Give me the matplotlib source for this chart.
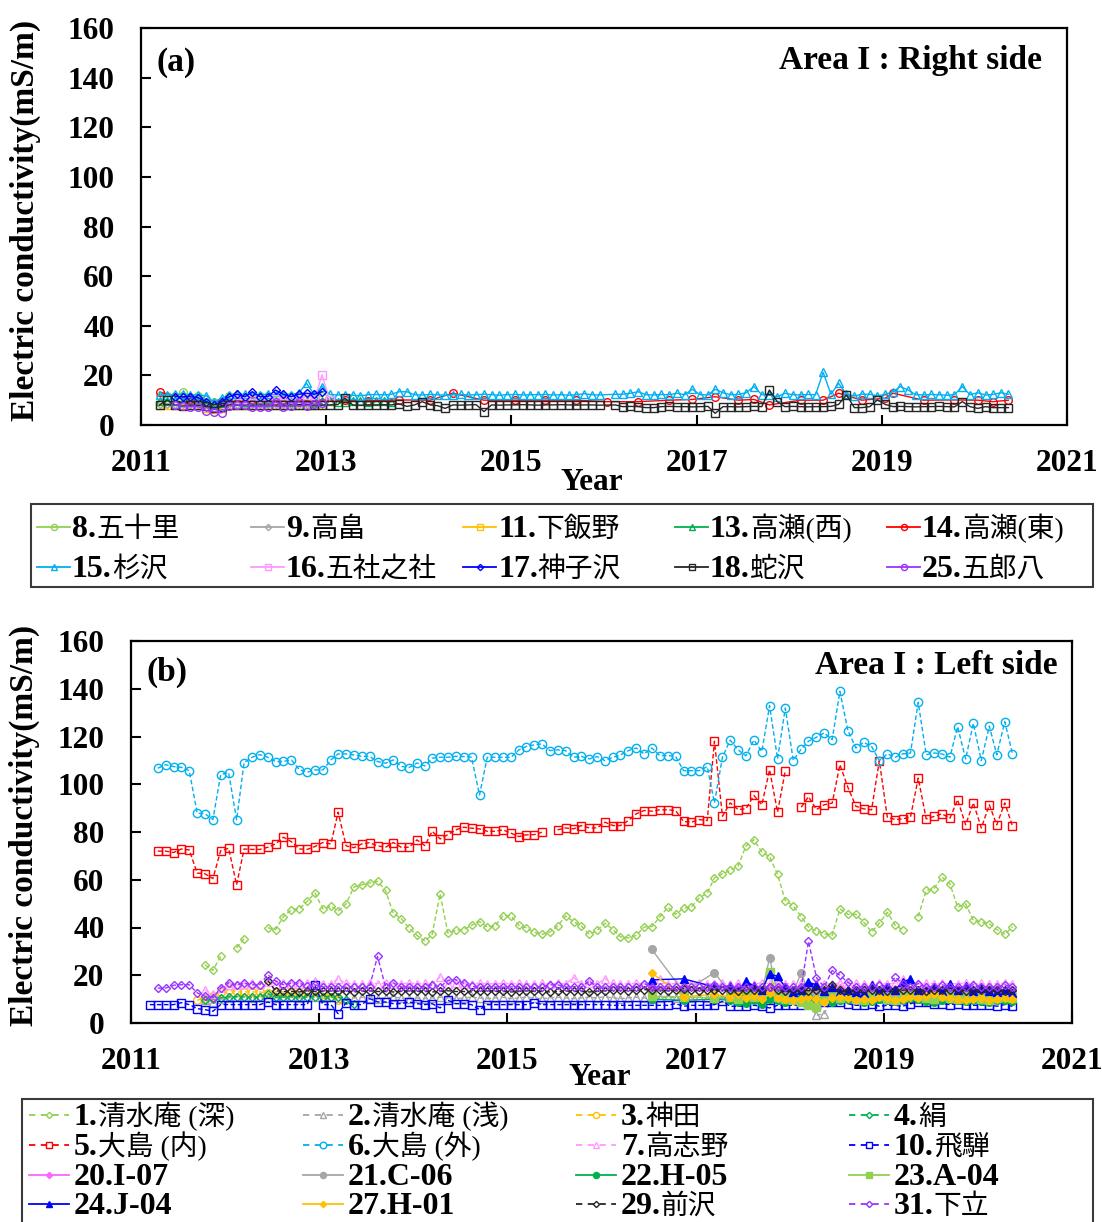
import numpy as np
import pandas as pd
import matplotlib
matplotlib.use("Agg")
import matplotlib.pyplot as plt
import matplotlib.dates as mdates
from matplotlib.lines import Line2D
from matplotlib.patches import Rectangle
from datetime import datetime

FAMILY = ["Liberation Serif", "Noto Sans CJK JP"]
plt.rcParams["font.family"] = FAMILY
plt.rcParams["font.weight"] = "bold"
N = None

# ---------------------------------------------------------------- panel (a)
# monthly EC readings (mS/m); each series starts at the month given
A8_start = "2011-03"
A8 = [11.6, 11.5, 11.6, 13.2, 11.4, 11.6, 10.5, 9.2, 9.8, 11.5, 11.6, 11.4, 11.6,
      11.5, 11.6, 11.4, 11.6, 11.5, 11.6, 11.4, 11.6, 11.5]
A9_start = "2011-03"
A9 = [8.4, 8.5, 8.3, 8.4, 8.5, 8.3, 7.2, 6.8, 7.0, 8.4, 8.5, 8.3, 8.4, 8.5, 8.3,
      8.4, 8.5, 8.3, 8.4, 8.5, 8.3, 8.4]
A11_start = "2011-03"
A11 = [8.2, 8.0, 8.1, 8.2, 8.0, 8.1, 6.9, 6.5, 6.8, 8.2, 8.0, 8.1, 8.2, 8.0, 8.1,
       8.2, 8.0, 8.1, 8.2, 8.0, 8.1, 8.2]
A13_start = "2011-03"
A13 = [9.6, 9.5, 9.6, 9.4, 9.5, 9.6, 8.8, 8.4, 8.7, 9.5, 9.6, 9.4, 9.5, 9.6, 9.4,
       9.5, 9.6, 9.4, 9.5, 9.6, 9.4, 9.5, 9.6, 9.4, 9.4, 9.5, 9.6, 9.4, 9.5, 9.6, 9.4]
A14_months = ["2011-03", "2011-07", "2011-11", "2012-03", "2012-07", "2012-11",
              "2013-03", "2013-06", "2013-10", "2014-02", "2014-05", "2014-09",
              "2015-01", "2015-05", "2015-09", "2016-01", "2016-05", "2016-09",
              "2016-12", "2017-03", "2017-06", "2017-08", "2017-10", "2018-02",
              "2018-05", "2018-07", "2018-10", "2019-01", "2019-02", "2019-06",
              "2019-10", "2020-01", "2020-03", "2020-05"]
A14 = [13.2, 10.5, 9.5, 10.0, 10.0, 10.0, 10.0, 9.8, 10.1, 10.0, 12.8, 10.0,
       10.0, 10.0, 10.0, 9.4, 9.4, 10.0, 10.3, 11.4, 10.0, 10.3, 8.1, 10.0,
       10.0, 12.8, 10.0, 10.8, 12.8, 10.0, 10.1, 10.0, 9.4, 10.0]
A15_start = "2011-03"
A15 = [12.2, 12.1, 12.3, 12.4, 12.2, 12.1, 11.8, 9.2, 10.8, 12.2,
       12.3, 12.4, 12.1, 12.2, 12.4, 12.2, 12.0, 12.2, 13.0, 16.8,
       12.2, 15.5, 12.3, 12.1, 12.2, 12.0, 11.8, 12.2, 12.3, 12.1,
       12.4, 13.4, 13.4, 12.2, 12.1, 12.3, 12.2, 12.0, 12.2, 12.3,
       12.1, 12.2, 12.4, 12.2, 12.0, 12.2, 12.3, 12.1, 12.2, 12.2,
       12.3, 12.1, 12.2, 12.0, 12.2, 12.6, 12.2, 12.1, N, 12.4,
       12.4, 12.8, 13.4, 12.2, 12.1, 12.3, 12.2, 12.8, 12.2, 14.4,
       12.2, 12.1, 14.4, 13.0, 12.2, 12.3, 13.0, 15.5, 12.2, 12.0,
       11.4, 12.8, 12.2, 12.1, 12.3, 12.2, 21.2, 12.4, 16.8, 12.4,
       11.7, 12.4, 12.4, 11.7, 12.4, 13.4, 15.5, 14.1, 12.2, 12.1,
       12.3, 12.2, 12.0, 12.2, 15.5, 12.2, 13.0, 12.1, 12.3, 13.0, 12.4]
A16_start = "2012-01"
A16 = [10.2, 10.3, 10.2, 10.0, 10.2, 10.3, 10.2, 10.1, 10.2, 10.3, 10.2, 20.2, 10.0]
A17_start = "2011-05"
A17 = [11.4, 11.4, 11.4, 11.0, 9.4, 8.1, 9.4, 11.4, 12.4, 11.4, 13.4, 11.4, 11.4,
       14.1, 12.4, 11.4, 12.4, 12.8, 12.4, 13.4]
A18_start = "2011-03"
A18 = [8.1, 10.1, 8.1, 7.8, 8.1, 8.0, 7.5, 7.0, 7.4, 8.1,
       8.1, 8.0, 8.1, 8.2, 8.1, 8.0, 8.1, 8.1, 8.2, 8.1,
       8.0, 8.1, 8.1, 8.2, 10.8, 8.1, 8.0, 8.1, 8.1, 8.2,
       8.1, 8.5, 7.5, 8.1, 9.4, 8.1, 7.8, 6.7, 8.1, 8.0,
       8.1, 8.2, 5.4, 8.1, 8.0, 8.1, 8.1, 8.2, 8.1, 8.0,
       8.1, 8.1, 8.2, 8.1, 8.0, 8.1, 8.1, 8.0, N, 8.1,
       7.4, 7.5, 7.4, 7.0, 7.0, 7.4, 7.5, 7.4, 7.4, 7.3,
       7.4, 7.5, 4.7, 7.4, 7.4, 7.3, 7.4, 7.5, 7.4, 14.1,
       9.4, 7.4, 7.5, 7.4, 7.3, 7.4, 7.4, 7.5, 8.3, 12.1,
       7.0, 7.0, 7.4, 10.1, 8.3, 7.4, 7.5, 7.4, 7.3, 7.4,
       7.4, 7.5, 7.4, 7.3, 9.4, 7.4, 6.7, 7.4, 7.0, 7.0, 7.0]
A25_start = "2011-05"
A25 = [8.1, 7.7, 7.4, 7.4, 5.8, 5.4, 4.9, 7.7, 8.1, 8.1, 7.4, 7.4, 7.4, 9.4, 7.4,
       7.7, 9.4, 7.7, 8.4, 8.7]

# ---------------------------------------------------------------- panel (b)
B1_start = "2011-10"
B1 = [24.4, 22.0, 28.0, N, 31.5, 35.3, N, N, 39.9, 39.1,
      44.6, 47.4, 47.8, 50.9, 54.5, 47.8, 49.0, 46.9, 49.9, 56.9,
      57.9, 58.7, 59.4, 55.5, 46.0, 43.7, 39.9, 36.7, 34.3, 37.1,
      54.1, 37.7, 38.8, 39.1, 40.9, 42.5, 40.2, 40.6, 45.0, 44.9,
      40.9, 39.9, 38.1, 37.1, 38.1, 40.6, 44.8, 42.5, 40.6, 37.1,
      38.8, 41.8, 39.1, 36.1, 35.6, 36.7, 40.2, 40.4, 44.4, 48.5,
      45.5, 48.1, 48.5, 52.4, 54.5, 60.8, 62.5, 63.9, 65.7, 74.1,
      76.8, 71.5, 69.7, 62.2, 51.3, 49.0, 44.6, 40.2, 38.5, 37.4,
      36.7, 47.8, 45.5, 45.5, 42.3, 38.1, 41.8, 46.4, 40.9, 39.1,
      N, 44.6, 55.5, 56.2, 61.1, 58.3, 48.5, 49.9, 43.0, 42.3,
      41.6, 39.1, 37.1, 40.4]
B2_start = "2011-10"
B2 = [9.5, 9.0, 10.0, 10.5, 10.8, 11.0, 10.5, 10.8, 11.0, 10.5,
      10.8, 11.0, 10.5, 10.8, 11.0, 10.5, 10.8, 10.5, 10.2, 10.5,
      10.8, 10.5, 10.2, 10.5, 10.8, 10.5, 10.2, 10.5, 10.2, 10.5,
      10.8, 10.5, 10.2, 10.5, 10.8, 10.5, 10.2, 10.5, 10.8, 10.2,
      10.5, 10.8, 10.5, 10.2, 10.5, 10.8, 10.5, 10.2, 10.5, 10.8,
      10.5, 11.0, 10.5, 10.2, 10.5, 10.8, 10.5, 10.2, 10.5, 10.8,
      10.5, 10.2, 10.5, 10.8, 10.5, 10.2, 10.5, 10.8, 10.5, 10.2,
      10.5, 10.8, 10.5, 10.2, 10.5, 10.8, 10.5, 8.0, 3.2, 3.9,
      10.5, 10.8, 10.5, 10.2, 10.5, 10.8, 10.5, 10.2, 10.5, 10.8,
      10.5, 10.2, 10.5, 10.8, 10.5, 10.2, 10.5, 10.8, 10.5, 10.2,
      10.5, 10.8, 10.5, 10.2]
B3_start = "2011-09"
B3 = [9.5, 10.5, 11.5, 13.0, 13.7, 13.0, 13.0, 13.0, 13.0, 12.5, 13.0, 13.0, 12.5,
      13.0, 13.0, 13.0, 12.0, 11.0, 9.5]
B4_start = "2011-10"
B4 = [9.5, 10.0, 10.5, 11.0, 11.0, 10.9, 10.9, 11.0, 12.3, 10.9, 10.9, 11.0, 10.9,
      10.9, 11.0, 11.0, 10.9, 10.9, 9.5, 8.0]
B5_start = "2011-04"
B5 = [72.0, 72.0, 71.4, 72.9, 72.5, 62.8, 62.5, 60.5, 72.2, 73.2,
      57.9, 72.9, 72.7, 72.7, 73.6, 75.0, 77.8, 75.9, 72.9, 72.7,
      73.9, 75.6, 75.0, 88.3, 74.2, 73.4, 75.0, 75.5, 74.2, 73.6,
      75.6, 73.6, 73.6, 76.7, 74.3, 80.3, 77.1, 78.9, 80.9, 82.0,
      81.6, 81.3, 80.3, 80.3, 80.9, 79.5, 78.1, 78.8, 78.9, 79.9,
      N, 80.9, 81.7, 81.3, 82.7, 81.7, 81.7, 84.1, 82.7, 82.7,
      84.8, 87.6, 89.0, 88.7, 89.3, 89.3, 89.0, 84.4, 84.1, 85.2,
      84.8, 118.0, 86.6, 92.2, 89.4, 89.7, 95.3, 91.4, 106.1, 88.3,
      105.7, N, 90.4, 94.8, 89.4, 91.4, 92.1, 108.2, 98.7, 90.8,
      89.7, 89.3, 109.9, 86.2, 85.2, 85.5, 86.2, 102.6, 85.5, 86.5,
      87.6, 85.8, 93.5, 83.0, 92.2, 81.7, 91.4, 83.0, 92.2, 82.4]
B6_start = "2011-04"
B6 = [106.7, 108.2, 107.4, 107.1, 105.7, 87.9, 87.6, 85.2, 104.0, 104.9,
      85.1, 109.1, 111.3, 112.4, 111.3, 109.5, 109.6, 110.2, 106.1, 105.0,
      106.0, 106.0, 110.2, 112.7, 112.7, 112.3, 111.7, 111.7, 109.5, 108.8,
      110.2, 107.5, 107.0, 108.9, 107.7, 110.9, 111.3, 111.3, 111.7, 111.6,
      111.3, 95.5, 111.3, 111.3, 111.3, 111.3, 114.4, 115.8, 116.5, 116.9,
      114.1, 114.4, 114.1, 111.3, 111.7, 110.6, 111.6, 109.9, 111.3, 112.3,
      114.1, 115.2, 112.7, 115.2, 112.0, 112.0, 111.7, 105.7, 105.7, 105.7,
      107.4, 92.2, 111.3, 118.5, 114.4, 111.9, 118.5, 113.7, 132.9, 110.6,
      131.9, 109.9, 114.8, 118.0, 119.7, 121.5, 118.7, 138.9, 122.5, 115.2,
      117.6, 115.8, 109.9, 112.7, 111.3, 112.7, 113.1, 134.3, 112.4, 113.1,
      112.7, 111.3, 124.1, 110.6, 125.5, 109.9, 124.4, 112.3, 126.2, 112.7]
B7_start = "2011-10"
B7 = [13.7, 12.0, 14.5, 16.0, 16.0, 16.5, 16.6, 16.4, 17.0, 16.5,
      16.6, 16.4, 16.5, 16.7, 17.5, 16.5, 16.4, 18.5, 16.6, 16.5,
      16.4, 16.7, 16.5, 16.6, 16.5, 16.4, 16.7, 16.5, 16.6, 16.4,
      19.2, 16.5, 16.7, 16.4, 16.5, 16.6, 16.5, 16.4, 16.7, 16.5,
      16.6, 16.4, 16.5, 16.7, 16.5, 16.6, 16.4, 19.0, 16.5, 16.7,
      16.4, 18.5, 16.6, 16.5, 16.4, 16.7, 16.5, 16.6, 18.5, 16.4,
      16.5, 16.7, 16.5, 16.6, 16.4, 16.5, 16.7, 16.5, 16.6, 16.4,
      16.5, 16.7, 16.5, 16.6, 16.4, 16.5, 16.7, 16.5, 16.6, 16.4,
      16.5, 16.7, 16.5, 16.6, 16.4, 16.5, 16.7, 16.5, 16.6, 18.5,
      16.4, 16.5, 16.7, 16.5, 16.6, 16.4, 16.5, 16.7, 16.5, 16.6,
      16.4, 16.5, 16.7, 16.5]
B10_start = "2011-03"
B10 = [7.7, 7.7, 7.7, 7.7, 8.5, 7.7, 6.0, 5.6, 4.9, 7.7, 7.7,
       7.7, 7.7, 7.7, 7.7, 8.8, 7.7, 7.7, 7.7, 7.7, 7.7,
       15.8, 7.7, 7.7, 3.9, 8.5, 7.7, 7.7, 10.2, 8.8, 8.8,
       8.1, 8.1, 8.8, 8.1, 7.7, 8.1, 6.3, 9.5, 8.1, 8.1,
       7.7, 5.6, 7.7, 7.7, 7.7, 7.7, 7.7, 7.7, 8.5, 7.7,
       7.7, 7.7, 7.7, 7.7, 7.7, 7.7, 7.7, 7.7,
       7.4, 7.4, 7.4, 7.4, 7.4, 7.4, 7.4, 7.4, 8.1, 7.0,
       7.4, 7.4, 7.4, 7.7, 9.1, 7.0, 7.0, 7.0, 7.4, 7.0,
       6.3, 7.4, 7.4, 7.4, 7.4, 15.0, 7.4, 8.8, 8.8, 8.8,
       8.1, 7.4, 7.4, 8.1, 7.0, 7.4, 7.4, 7.0, 8.1, 8.8,
       8.8, 8.1, 8.1, 7.7, 8.1, 7.7, 7.4, 7.4, 7.7, 7.0, 7.7, 7.0]
B29_start = "2012-06"
B29 = [17.8, 13.5, 13.2, 13.2, 13.0, 13.5, 13.2, 13.2, 13.4, 13.2,
       13.2, 13.0, 13.2, 13.5, 13.2, 13.2, 13.0, 13.2, 13.4, 13.2,
       13.2, 13.0, 13.2, 13.5, 13.2, 13.2, 13.0, 13.2, 13.4, 13.2,
       13.2, 13.0, 13.2, 13.5, 13.2, 13.2, 13.0, 13.2, 13.4, 13.2,
       13.2, 13.0, 13.2, 13.5, 13.7, 13.7, 13.5, 13.7, 14.0, 13.7,
       13.7, 13.5, 13.7, 14.4, 13.7, 13.5, 13.7, 14.0, 13.7, 13.7,
       13.5, 13.7, 14.0, 13.7, 15.0, 13.7, 13.5, 13.7, 13.7, 13.5,
       13.7, 14.0, 16.0, 13.7, 13.5, 13.7, 13.7, 14.0, 13.7, 13.5,
       13.7, 13.7, 14.0, 13.7, 13.5, 13.7, 13.7, 14.0, 13.7, 13.5,
       13.7, 13.7, 14.0, 13.7, 13.5, 13.7]
B31_start = "2011-04"
B31 = [14.6, 14.6, 15.8, 16.0, 16.0, 12.6, 11.2, 10.6, 14.6, 16.9,
       15.8, 16.7, 16.0, 16.0, 20.2, 17.6, 16.0, 16.7, 16.7, 15.3,
       16.0, 15.1, 15.2, 15.1, 15.0, 15.1, 15.2, 15.1, 27.9, 15.1,
       16.7, 15.1, 15.0, 15.1, 15.2, 16.0, 15.1, 17.9, 18.1, 16.7,
       15.3, 15.1, 15.2, 15.1, 15.0, 15.1, 15.2, 15.1, 15.0, 15.1,
       16.0, 16.0, 15.1, 15.2, 15.1, 17.6, 15.1, 15.0, 15.1, 15.2,
       15.1, 15.0, 16.5, 15.1, 15.2, 15.1, 15.0, 15.1, 15.2, 15.1,
       15.0, 16.0, 15.1, 15.2, 15.1, 15.0, 15.1, 15.2, 15.1, 15.0,
       15.1, 15.2, 15.1, 34.2, 19.0, 15.1, 22.0, 20.0, 17.0, 15.1,
       15.2, 15.1, 16.0, 15.1, 19.2, 16.5, 15.1, 16.5, 15.1, 15.2,
       16.0, 15.1, 15.2, 15.1, 16.0, 15.1, 15.2, 15.1, 16.0, 15.1]

# filled-marker sites: three early visits, then monthly from May 2017
FILLED_EARLY = ["2016-07", "2016-11", "2017-03"]
FILLED_MONTHLY_START = "2017-05"
B20 = [14.5, 14.0, 14.3,
       14.0, 14.5, 13.8, 14.6, 13.5, 14.2, 14.5, 14.0, 13.6, 14.1,
       14.5, 13.9, 13.5, 14.2, 14.6, 14.0, 13.7, 14.1, 14.4, 13.8,
       13.6, 14.2, 14.5, 14.0, 13.5, 14.1, 14.6, 13.9, 13.6, 14.2,
       14.4, 14.0, 13.7, 14.1, 14.3, 13.9, 13.6]
B21 = [30.8, 13.0, 21.1,
       12.5, 13.0, 12.0, 12.5, 13.0, 27.2, 12.5, 12.0, 13.0, 21.1,
       12.5, 12.8, 12.2, 12.6, 12.9, 12.4, 12.1, 12.7, 12.5, 12.3,
       12.8, 12.6, 12.2, 12.5, 12.9, 12.4, 12.6, 12.2, 12.7, 12.5,
       12.3, 12.6, 12.4, 12.2, 12.5, 12.3, 12.1]
B22 = [10.0, 9.5, 10.0,
       9.5, 9.0, 8.5, 9.5, 8.0, 10.0, 9.5, 9.0, 9.5, 10.5,
       11.0, 9.5, 10.0, 9.0, 9.5, 10.2, 9.6, 9.0, 9.4, 10.1,
       9.8, 9.2, 9.6, 10.3, 9.9, 9.4, 9.0, 9.6, 10.0, 9.5,
       9.2, 9.7, 9.3, 9.0, 9.5, 9.8, 9.4]
B23 = [11.2, 11.0, 10.5,
       11.0, 10.0, 12.0, 11.0, 12.5, 21.3, 11.0, 10.0, 9.5, 9.0,
       7.4, 6.7, 11.0, 12.0, 10.5, 11.2, 10.0, 9.6, 10.8, 11.5,
       10.2, 9.8, 11.0, 12.0, 11.4, 10.5, 10.0, 11.2, 10.6, 9.9,
       10.4, 11.0, 10.2, 9.8, 10.5, 10.9, 10.3]
B24 = [18.1, 18.5, 15.1,
       15.5, 13.5, 17.4, 15.5, 14.0, 20.6, 19.5, 15.1, 13.0, 14.0,
       17.0, 16.0, 13.5, 15.0, 13.0, 14.0, 13.0, 12.5, 16.0, 13.5,
       15.0, 14.0, 17.0, 18.5, 14.0, 13.5, 15.0, 13.5, 16.5, 14.0,
       15.5, 13.5, 14.5, 13.5, 13.0, 14.0, 12.5]
B27 = [20.9, 11.0, 12.0,
       11.0, 12.0, 10.5, 11.5, 10.0, 12.5, 10.5, 10.0, 9.5, 10.0,
       11.0, 10.0, 9.0, 10.5, 11.0, 10.5, 9.5, 10.0, 9.5, 11.0,
       10.5, 9.5, 10.0, 11.0, 10.5, 11.5, 12.0, 11.0, 10.5, 10.0,
       9.5, 10.0, 10.5, 9.5, 10.0, 10.5, 10.0]

YEAR_TICKS = [2011, 2013, 2015, 2017, 2019, 2021]
EC_TICKS = [0, 20, 40, 60, 80, 100, 120, 140, 160]

C_LGREEN = "#92D050"
C_GREY = "#A6A6A6"
C_GOLD = "#FFC000"
C_GREEN = "#00B050"
C_RED = "#FF0000"
C_SKY = "#00B0F0"
C_PINK = "#FF99FF"
C_PINK2 = "#FF66FF"
C_BLUE = "#0000FF"
C_BLACK = "#262626"
C_PURPLE = "#9933FF"

DASH = (0, (3.3, 1.8))
LEG_DASH = (0, (3.5, 3.0))


def monthly(start, n):
    return pd.date_range(start=start + "-15", periods=n,
                         freq=pd.DateOffset(months=1))


def to_array(values):
    return np.array([np.nan if v is None else v for v in values], dtype=float)


def draw(ax, dates, values, color, marker, label, dashed=False, filled=False,
         ms=5.5, connect=False):
    y = to_array(values)
    x = np.asarray(dates)
    if connect:
        keep = ~np.isnan(y)
        x, y = x[keep], y[keep]
    if marker == "D":
        ms = ms * 0.72
    line, = ax.plot(x, y, color=color, lw=1.0, ls=DASH if dashed else "-",
                    marker=marker, ms=ms, mfc=color if filled else "none",
                    mec=color, mew=1.0, label=label)
    line.dashed = dashed
    return line


def style_axes(ax):
    ax.set_xlim(datetime(2011, 1, 1), datetime(2021, 1, 1))
    ax.set_ylim(0, 160)
    ax.set_xticks([mdates.date2num(datetime(y, 1, 1)) for y in YEAR_TICKS])
    ax.set_xticklabels([str(y) for y in YEAR_TICKS])
    ax.set_yticks(EC_TICKS)
    ax.set_yticklabels([str(v) for v in EC_TICKS])
    ax.tick_params(axis="both", direction="in", length=7, width=1.5,
                   labelsize=22.5, pad=19)
    ax.tick_params(axis="x", pad=17)
    for lab in ax.get_xticklabels() + ax.get_yticklabels():
        lab.set_fontweight("bold")
    for sp in ax.spines.values():
        sp.set_linewidth(1.6)
        sp.set_color("black")
    ax.set_xlabel("Year", fontsize=22.5, fontweight="bold")
    ax.set_ylabel("Electric conductivity(mS/m)", fontsize=24, fontweight="bold")
    ax.xaxis.label.set_va("center")
    ax.yaxis.label.set_va("center")


W, H = 1102, 1222
fig = plt.figure(figsize=(W / 100, H / 100), dpi=100)


def frac(x0, y0, x1, y1):
    return [x0 / W, 1 - y1 / H, (x1 - x0) / W, (y1 - y0) / H]


# ---------------------------------------------------------------- draw (a)
axA = fig.add_axes(frac(141, 28, 1067, 425))
hA = {}
hA[8] = draw(axA, monthly(A8_start, len(A8)), A8, C_LGREEN, "o", "8.五十里")
hA[9] = draw(axA, monthly(A9_start, len(A9)), A9, C_GREY, "D", "9.高畠")
hA[11] = draw(axA, monthly(A11_start, len(A11)), A11, C_GOLD, "s", "11.下飯野")
hA[13] = draw(axA, monthly(A13_start, len(A13)), A13, C_GREEN, "^", "13.高瀬(西)")
hA[14] = draw(axA, pd.to_datetime([m + "-15" for m in A14_months]), A14, C_RED,
              "o", "14.高瀬(東)", connect=True)
hA[15] = draw(axA, monthly(A15_start, len(A15)), A15, C_SKY, "^", "15.杉沢",
              connect=True)
hA[16] = draw(axA, monthly(A16_start, len(A16)), A16, C_PINK, "s", "16.五社之社")
hA[17] = draw(axA, monthly(A17_start, len(A17)), A17, C_BLUE, "D", "17.神子沢")
hA[18] = draw(axA, monthly(A18_start, len(A18)), A18, C_BLACK, "s", "18.蛇沢",
              connect=True)
hA[25] = draw(axA, monthly(A25_start, len(A25)), A25, C_PURPLE, "o", "25.五郎八")
style_axes(axA)
axA.xaxis.set_label_coords(0.487, -0.145)
axA.yaxis.set_label_coords(-0.125, 0.516)
axA.text(0.017, 0.913, "(a)", transform=axA.transAxes, fontsize=24,
         fontweight="bold", ha="left", va="center")
axA.text(0.973, 0.918, "Area I : Right side", transform=axA.transAxes,
         fontsize=24, fontweight="bold", ha="right", va="center")

# ---------------------------------------------------------------- draw (b)
axB = fig.add_axes(frac(131, 641, 1072, 1023))
filled_dates = pd.to_datetime([m + "-15" for m in FILLED_EARLY]).append(
    monthly(FILLED_MONTHLY_START, len(B20) - len(FILLED_EARLY)))
hB = {}
hB[1] = draw(axB, monthly(B1_start, len(B1)), B1, C_LGREEN, "D", "1.清水庵 (深)", dashed=True)
hB[2] = draw(axB, monthly(B2_start, len(B2)), B2, C_GREY, "^", "2.清水庵 (浅)", dashed=True)
hB[3] = draw(axB, monthly(B3_start, len(B3)), B3, C_GOLD, "o", "3.神田", dashed=True)
hB[4] = draw(axB, monthly(B4_start, len(B4)), B4, C_GREEN, "D", "4.絹", dashed=True)
hB[5] = draw(axB, monthly(B5_start, len(B5)), B5, C_RED, "s", "5.大島 (内)", dashed=True)
hB[6] = draw(axB, monthly(B6_start, len(B6)), B6, C_SKY, "o", "6.大島 (外)", dashed=True,
             ms=6.0)
hB[7] = draw(axB, monthly(B7_start, len(B7)), B7, C_PINK, "^", "7.高志野", dashed=True)
hB[10] = draw(axB, monthly(B10_start, len(B10)), B10, C_BLUE, "s", "10.飛騨", dashed=True)
hB[20] = draw(axB, filled_dates, B20, C_PINK2, "D", "20.I-07", filled=True)
hB[21] = draw(axB, filled_dates, B21, C_GREY, "o", "21.C-06", filled=True)
hB[22] = draw(axB, filled_dates, B22, C_GREEN, "o", "22.H-05", filled=True)
hB[23] = draw(axB, filled_dates, B23, C_LGREEN, "s", "23.A-04", filled=True)
hB[24] = draw(axB, filled_dates, B24, C_BLUE, "^", "24.J-04", filled=True)
hB[27] = draw(axB, filled_dates, B27, C_GOLD, "D", "27.H-01", filled=True)
hB[29] = draw(axB, monthly(B29_start, len(B29)), B29, C_BLACK, "D", "29.前沢", dashed=True)
hB[31] = draw(axB, monthly(B31_start, len(B31)), B31, C_PURPLE, "D", "31.下立", dashed=True)
style_axes(axB)
axB.xaxis.set_label_coords(0.498, -0.143)
axB.yaxis.set_label_coords(-0.113, 0.518)
axB.text(0.017, 0.918, "(b)", transform=axB.transAxes, fontsize=24,
         fontweight="bold", ha="left", va="center")
axB.text(0.985, 0.936, "Area I : Left side", transform=axB.transAxes,
         fontsize=24, fontweight="bold", ha="right", va="center")

# ---------------------------------------------------------------- legends
# Site number in bold serif, site name in a lighter CJK face.
renderer = fig.canvas.get_renderer()


def split_label(label):
    num, rest = label.split(".", 1)
    if any(ord(ch) > 0x2E80 for ch in rest):
        return num + ".", rest
    return label, ""


def legend_block(order, handles, box, handle_x, text_x, row_y, handle_len):
    x0, y0, x1, y1 = box
    fig.add_artist(Rectangle((x0 / W, 1 - y1 / H), (x1 - x0) / W, (y1 - y0) / H,
                             transform=fig.transFigure, fill=False,
                             edgecolor="#3a3a3a", lw=1.5))
    ncol = len(handle_x)
    for idx, key in enumerate(order):
        h = handles[key]
        r, c = divmod(idx, ncol)
        yc = 1 - row_y[r] / H
        hx0 = handle_x[c] / W
        hx1 = (handle_x[c] + handle_len) / W
        fig.add_artist(Line2D([hx0, hx1], [yc, yc], transform=fig.transFigure,
                              color=h.get_color(), lw=1.3,
                              ls=LEG_DASH if h.dashed else "-"))
        fig.add_artist(Line2D([(hx0 + hx1) / 2], [yc], transform=fig.transFigure,
                              ls="none", marker=h.get_marker(),
                              ms=h.get_markersize() * 0.8,
                              mfc=h.get_markerfacecolor(),
                              mec=h.get_markeredgecolor(), mew=1.0))
        num, name = split_label(h.get_label())
        base = yc - 10 / H
        t = fig.text(text_x[c] / W, base, num, fontsize=23, fontweight="bold",
                     family=FAMILY, ha="left", va="baseline")
        if name:
            bb = t.get_window_extent(renderer)
            fig.text(bb.x1 / W, base, name, fontsize=20, fontweight="normal",
                     family=FAMILY, ha="left", va="baseline")


legend_block([8, 9, 11, 13, 14, 15, 16, 17, 18, 25], hA,
             box=(31, 504, 1093, 587),
             handle_x=[37, 251, 463, 675, 887],
             text_x=[72, 286, 498, 710, 922],
             row_y=[527, 567], handle_len=33)

legend_block([1, 2, 3, 4, 5, 6, 7, 10, 20, 21, 22, 23, 24, 27, 29, 31], hB,
             box=(22, 1099, 1093, 1240),
             handle_x=[29, 303, 576, 849],
             text_x=[74, 348, 621, 894],
             row_y=[1115, 1145, 1175, 1204], handle_len=40)

fig.savefig("out.png", dpi=100)
